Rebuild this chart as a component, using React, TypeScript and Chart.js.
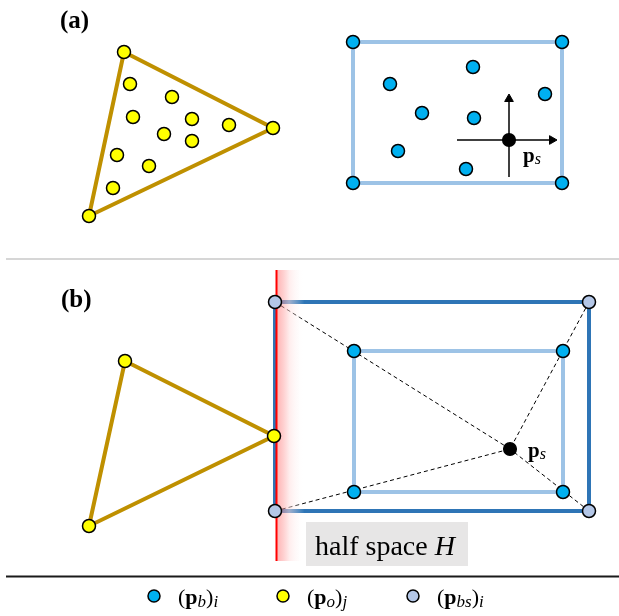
import React, { useEffect, useRef } from "react";
import { Chart, registerables } from "chart.js";

Chart.register(...registerables);

type P = { x: number; y: number };

// ---- panel (a) ----
const triangleA: P[] = [{ x: 124, y: 52 }, { x: 273, y: 128 }, { x: 89, y: 216 }];
const objectPointsA: P[] = [
  { x: 130, y: 84 }, { x: 172, y: 97 }, { x: 133, y: 117 }, { x: 192, y: 119 },
  { x: 229, y: 125 }, { x: 164, y: 134 }, { x: 192, y: 141 }, { x: 117, y: 155 },
  { x: 149, y: 166 }, { x: 113, y: 188 },
];
const boxA: P[] = [{ x: 353, y: 42 }, { x: 562, y: 42 }, { x: 562, y: 183 }, { x: 353, y: 183 }];
const bodyPointsA: P[] = [
  { x: 390, y: 84 }, { x: 473, y: 67 }, { x: 545, y: 94 }, { x: 422, y: 113 },
  { x: 474, y: 118 }, { x: 398, y: 151 }, { x: 466, y: 169 },
];
const sensorA: P = { x: 509, y: 140 };
const axisXA: P[] = [{ x: 457, y: 140 }, { x: 552, y: 140 }];
const axisYA: P[] = [{ x: 509, y: 177 }, { x: 509, y: 99 }];
const arrowHeadsA: P[] = [{ x: 552, y: 140 }, { x: 509, y: 99 }];
const arrowRotations = [90, 0];

// ---- panel (b) ----
const triangleB: P[] = [{ x: 125, y: 361 }, { x: 274, y: 436 }, { x: 89, y: 526 }];
const outerBoxB: P[] = [{ x: 275, y: 302 }, { x: 589, y: 302 }, { x: 589, y: 511 }, { x: 275, y: 511 }];
const innerBoxB: P[] = [{ x: 354, y: 351 }, { x: 563, y: 351 }, { x: 563, y: 492 }, { x: 354, y: 492 }];
const sensorB: P = { x: 510, y: 449 };
const halfSpaceLine: P[] = [{ x: 276.5, y: 270 }, { x: 276.5, y: 561 }];

// ---- separators & legend ----
const separatorTop: P[] = [{ x: 6, y: 259 }, { x: 619, y: 259 }];
const separatorBottom: P[] = [{ x: 6, y: 576.5 }, { x: 619, y: 576.5 }];
const legendMarkers: P[] = [{ x: 154, y: 596 }, { x: 283, y: 596 }, { x: 413, y: 596 }];
const legendColors = ["#00B0F0", "#FFFF00", "#B4C7E7"];
const legendSubs = [["b", "i"], ["o", "j"], ["bs", "i"]];

const SERIF = '"Liberation Serif", "DejaVu Serif", serif';

const closed = (pts: P[]) => [...pts, pts[0]];

function lineDs(data: P[], color: string, width: number, order: number, dash: number[] = []) {
  return {
    data,
    showLine: true,
    borderColor: color,
    borderWidth: width,
    borderDash: dash,
    pointRadius: 0,
    borderJoinStyle: "miter",
    borderCapStyle: "butt",
    fill: false,
    tension: 0,
    order,
    clip: false,
  } as any;
}

function pointDs(data: P[], color: string | string[], radius: number, order: number) {
  return {
    data,
    showLine: false,
    pointRadius: radius,
    pointBackgroundColor: color,
    pointBorderColor: "#000",
    pointBorderWidth: 1.5,
    order,
    clip: false,
  } as any;
}

function drawMath(ctx: CanvasRenderingContext2D, x: number, y: number, parts: { t: string; f: string; dy?: number }[]) {
  let cx = x;
  for (const p of parts) {
    ctx.font = p.f;
    ctx.fillText(p.t, cx, y + (p.dy || 0));
    cx += ctx.measureText(p.t).width;
  }
}

const overlayPlugin = {
  id: "overlay",
  beforeDatasetDraw(chart: any, args: any) {
    const ds = chart.data.datasets[args.index];
    if (!ds.gradientBefore) return;
    const ctx = chart.ctx as CanvasRenderingContext2D;
    const xs = chart.scales.x;
    const ys = chart.scales.y;
    const x0 = xs.getPixelForValue(halfSpaceLine[0].x);
    const x1 = xs.getPixelForValue(halfSpaceLine[0].x + 28);
    const y0 = ys.getPixelForValue(halfSpaceLine[0].y);
    const y1 = ys.getPixelForValue(halfSpaceLine[1].y);
    const g = ctx.createLinearGradient(x0, 0, x1, 0);
    g.addColorStop(0, "rgba(255,90,90,0.45)");
    g.addColorStop(0.45, "rgba(255,220,220,0.55)");
    g.addColorStop(1, "rgba(255,255,255,0)");
    ctx.save();
    ctx.fillStyle = g;
    ctx.fillRect(x0, y0, x1 - x0, y1 - y0);
    ctx.restore();
  },
  afterDatasetsDraw(chart: any) {
    const ctx = chart.ctx as CanvasRenderingContext2D;
    const xs = chart.scales.x;
    const ys = chart.scales.y;
    const X = (v: number) => xs.getPixelForValue(v);
    const Y = (v: number) => ys.getPixelForValue(v);
    ctx.save();
    ctx.fillStyle = "#000";
    ctx.textBaseline = "alphabetic";
    ctx.textAlign = "left";
    // panel labels
    ctx.font = `bold 25px ${SERIF}`;
    ctx.fillText("(a)", X(60), Y(28));
    ctx.fillText("(b)", X(61), Y(307));
    // sensor labels
    const bold = `bold 21px ${SERIF}`;
    const ital = `italic 16px ${SERIF}`;
    drawMath(ctx, X(523), Y(162), [{ t: "p", f: bold }, { t: "s", f: ital, dy: 2 }]);
    drawMath(ctx, X(528), Y(457), [{ t: "p", f: bold }, { t: "s", f: ital, dy: 2 }]);
    // half space box
    ctx.fillStyle = "#E7E6E6";
    ctx.fillRect(X(306), Y(522), X(468) - X(306), Y(566) - Y(522));
    ctx.fillStyle = "#000";
    drawMath(ctx, X(315), Y(555), [
      { t: "half space ", f: `28px ${SERIF}` },
      { t: "H", f: `italic 28px ${SERIF}` },
    ]);
    // legend labels
    legendMarkers.forEach((m, i) => {
      const [s1, s2] = legendSubs[i];
      drawMath(ctx, X(m.x + 24), Y(604), [
        { t: "(", f: `22px ${SERIF}` },
        { t: "p", f: `bold 22px ${SERIF}` },
        { t: s1, f: `italic 17px ${SERIF}`, dy: 3 },
        { t: ")", f: `22px ${SERIF}` },
        { t: s2, f: `italic 17px ${SERIF}`, dy: 3 },
      ]);
    });
    ctx.restore();
  },
};

export default function App() {
  const ref = useRef<HTMLCanvasElement | null>(null);

  useEffect(() => {
    document.body.style.margin = "0";
    const canvas = ref.current;
    if (!canvas) return;

    const sensorDashes = outerBoxB.map((c) => lineDs([c, sensorB], "#000", 1, 9, [4, 3]));

    const chart = new Chart(canvas, {
      type: "scatter",
      data: {
        datasets: [
          // lines (behind)
          lineDs(separatorTop, "#C8C8C8", 1.5, 20),
          lineDs(separatorBottom, "#1A1A1A", 2.2, 20),
          lineDs(closed(triangleA), "#BF9000", 4, 12),
          lineDs(closed(triangleB), "#BF9000", 4, 12),
          lineDs(closed(boxA), "#9DC3E6", 4, 12),
          lineDs(closed(innerBoxB), "#9DC3E6", 4, 12),
          lineDs(closed(outerBoxB), "#2E75B6", 4, 11),
          ...sensorDashes,
          lineDs(axisXA, "#000", 1.5, 9),
          lineDs(axisYA, "#000", 1.5, 9),
          { ...lineDs(halfSpaceLine, "#FF0000", 2, 7), gradientBefore: true },
          // arrow heads
          {
            data: arrowHeadsA,
            showLine: false,
            pointStyle: "triangle",
            pointRadius: 5,
            pointRotation: arrowRotations,
            pointBackgroundColor: "#000",
            pointBorderColor: "#000",
            pointBorderWidth: 1,
            order: 6,
            clip: false,
          } as any,
          // points
          pointDs(bodyPointsA, "#00B0F0", 6.5, 5),
          pointDs(innerBoxB, "#00B0F0", 6.5, 5),
          pointDs(triangleA, "#FFFF00", 6.5, 4),
          pointDs(objectPointsA, "#FFFF00", 6.5, 4),
          pointDs(triangleB, "#FFFF00", 6.5, 4),
          pointDs(boxA, "#00B0F0", 6.5, 4),
          pointDs(outerBoxB, "#B4C7E7", 6.5, 3),
          pointDs([sensorA, sensorB], "#000", 6.3, 2),
          pointDs(legendMarkers, legendColors, 6, 2),
        ],
      },
      options: {
        animation: false,
        responsive: false,
        devicePixelRatio: 1,
        layout: { padding: 0, autoPadding: false },
        events: [],
        plugins: { legend: { display: false }, tooltip: { enabled: false } },
        scales: {
          x: { type: "linear", min: 0, max: 619, display: false },
          y: { type: "linear", min: 0, max: 616, reverse: true, display: false },
        },
      },
      plugins: [overlayPlugin as any],
    });
    return () => chart.destroy();
  }, []);

  return (
    <div style={{ width: 619, height: 616, background: "#fff" }}>
      <canvas ref={ref} width={619} height={616} style={{ display: "block" }} />
    </div>
  );
}
